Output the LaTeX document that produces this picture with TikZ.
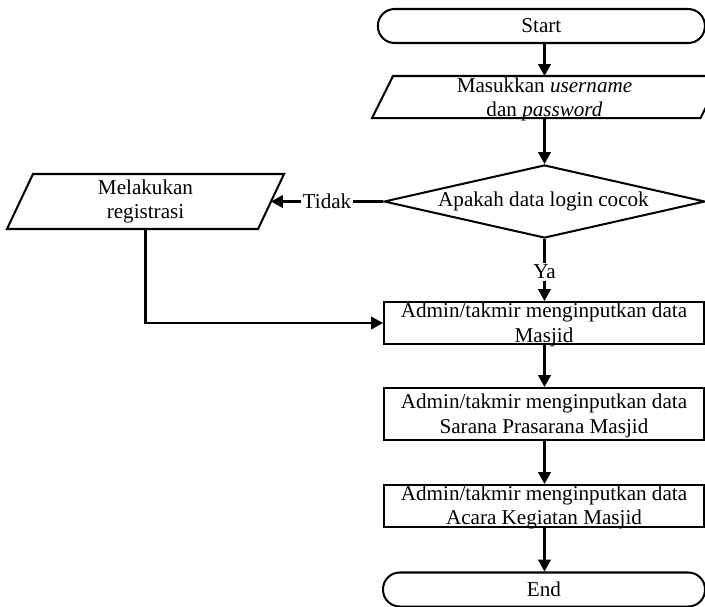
\documentclass[tikz,border=0pt]{standalone}
\usepackage{fontspec}
\setmainfont{Liberation Serif}
\usetikzlibrary{arrows.meta,shapes.geometric,calc}
\begin{document}
\begin{tikzpicture}[x=0.5682pt,y=-0.5682pt,
  line width=1.15pt,
  arr/.style={-{Triangle[length=6.8pt,width=7.2pt]}},
  procbox/.style={draw, minimum width=181.8pt, inner sep=0pt},
  term/.style={draw, rounded corners=9.5pt, inner sep=0pt, minimum height=19.32pt},
  body/.style={draw=none, inner sep=0pt},
  decision/.style={draw, diamond, shape aspect=4.4, inner sep=0pt, minimum width=182.4pt, minimum height=41.5pt},
  txt/.style={align=center, font=\fontsize{12}{14}\selectfont, inner sep=0pt},
  lbl/.style={font=\fontsize{12}{14}\selectfont, fill=white, inner sep=1.2pt},
  ]
\useasboundingbox (0,0) rectangle (705,606);
\coordinate (ax) at (544.5,0);

% shapes
\node[term, minimum width=185.8pt] (start) at (541.4,26) {};
\node[body, minimum width=185.5pt, minimum height=22.73pt] (in) at (546.75,97) {};
\draw ($(in.south west)+(-10.5,0)$) -- ($(in.south east)+(-10.5,0)$)
   -- ($(in.north east)+(10.5,0)$) -- ($(in.north west)+(10.5,0)$) -- cycle;
\node[decision] (dec) at (544.5,201.5) {};
\node[body, minimum width=141.5pt, minimum height=30.1pt] (reg) at (145.5,201.5) {};
\draw ($(reg.south west)+(-13,0)$) -- ($(reg.south east)+(-13,0)$)
   -- ($(reg.north east)+(13,0)$) -- ($(reg.north west)+(13,0)$) -- cycle;
\node[procbox, minimum height=23.86pt] (b1) at (544,323) {};
\node[procbox, minimum height=29.55pt] (b2) at (544,414) {};
\node[procbox, minimum height=23.86pt] (b3) at (544,506) {};
\node[term, minimum width=182.96pt] (end) at (544,589.5) {};

% texts
\node[txt] at (start) {Start};
\node[txt] at ($(ax|-in)+(0,2.5)$) {Masukkan \textit{username}\\dan \textit{password}};
\node[txt] at ($(dec)+(-1,0.3)$) {Apakah data login cocok};
\node[txt] at (reg) {Melakukan\\registrasi};
\node[txt] at ($(b1)+(0,1.6)$) {Admin/takmir menginputkan data\\Masjid};
\node[txt] at ($(b2)+(0,1.6)$) {Admin/takmir menginputkan data\\Sarana Prasarana Masjid};
\node[txt] at ($(b3)+(0,1.6)$) {Admin/takmir menginputkan data\\Acara Kegiatan Masjid};
\node[txt] at (end) {End};

% connectors
\draw[arr] (start.south -| ax) -- (in.north -| ax);
\draw[arr] (in.south -| ax) -- (dec.north);
\draw[arr] (dec.west) -- node[lbl] {Tidak} (reg.east);
\draw[arr] (dec.south) -- node[lbl, pos=0.53] {Ya} (b1.north -| dec.south);
\draw[arr] (reg.south) |- (b1.west);
\draw[arr] (b1.south -| ax) -- (b2.north -| ax);
\draw[arr] (b2.south -| ax) -- (b3.north -| ax);
\draw[arr] (b3.south -| ax) -- (end.north -| ax);
\end{tikzpicture}
\end{document}
